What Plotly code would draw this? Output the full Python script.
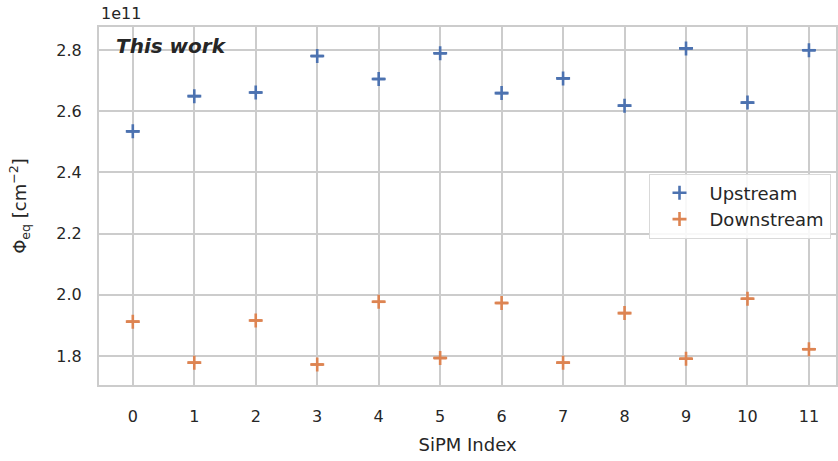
import plotly.graph_objects as go

# Equivalent fluence per SiPM channel
sipm_index = list(range(12))
upstream = [2.534e11, 2.649e11, 2.661e11, 2.780e11, 2.705e11, 2.789e11,
            2.659e11, 2.707e11, 2.618e11, 2.805e11, 2.628e11, 2.799e11]
downstream = [1.912e11, 1.778e11, 1.916e11, 1.772e11, 1.977e11, 1.793e11,
              1.973e11, 1.778e11, 1.940e11, 1.791e11, 1.987e11, 1.822e11]
y_ticks = [1.8, 2.0, 2.2, 2.4, 2.6, 2.8]
scale = 1e11
half_width = 0.1  # horizontal extent of each channel marker

BLUE = "#4C72B0"
ORANGE = "#DD8452"
GRID = "#cccccc"
TEXT = "#262626"
FONT = "DejaVu Sans"

fig = go.Figure()
for name, vals, col in [("Upstream", upstream, BLUE), ("Downstream", downstream, ORANGE)]:
    fig.add_trace(go.Scatter(
        x=sipm_index, y=[v / scale for v in vals], mode="markers", name=name,
        marker=dict(symbol="cross-thin", size=10, line=dict(color=col, width=2.6)),
        error_x=dict(type="constant", value=half_width, color=col, thickness=2.6, width=0),
    ))

fig.update_layout(
    width=838, height=461,
    margin=dict(l=99, r=0, t=27, b=76),
    paper_bgcolor="white", plot_bgcolor="white",
    font=dict(family=FONT, size=16, color=TEXT),
    showlegend=True,
    legend=dict(
        x=0.7456, y=0.50, xanchor="left", yanchor="middle",
        bgcolor="rgba(255,255,255,0.85)", bordercolor="#d9d9d9", borderwidth=1,
        font=dict(size=18, color=TEXT), itemwidth=50, tracegroupgap=0,
    ),
    xaxis=dict(
        range=[-0.55, 11.44], tickvals=sipm_index, ticktext=[str(i) for i in sipm_index],
        showgrid=True, gridcolor=GRID, gridwidth=2, zeroline=False,
        showline=True, linecolor=GRID, linewidth=2, mirror=True,
        ticks="", ticklabelstandoff=16,
        title=dict(text="SiPM Index", font=dict(size=18, color=TEXT), standoff=13),
        tickfont=dict(size=16, color=TEXT),
    ),
    yaxis=dict(
        range=[1.705, 2.875], tickvals=y_ticks, ticktext=[f"{t:.1f}" for t in y_ticks],
        showgrid=True, gridcolor=GRID, gridwidth=2, zeroline=False,
        showline=True, linecolor=GRID, linewidth=2, mirror=True,
        ticks="", ticklabelstandoff=12,
        title=dict(text="Φ<sub>eq</sub> [cm<sup>−2</sup>]", font=dict(size=18, color=TEXT), standoff=25),
        tickfont=dict(size=16, color=TEXT),
    ),
    annotations=[
        dict(text="1e11", xref="paper", yref="paper", x=0, y=1, xanchor="left", yanchor="bottom",
             yshift=2, showarrow=False, font=dict(size=16, color=TEXT)),
        dict(text="<b><i>This work</i></b>", xref="paper", yref="paper", x=0.021, y=0.987,
             xanchor="left", yanchor="top", showarrow=False, font=dict(size=20, color=TEXT)),
    ],
)

fig.write_html("out.html")
